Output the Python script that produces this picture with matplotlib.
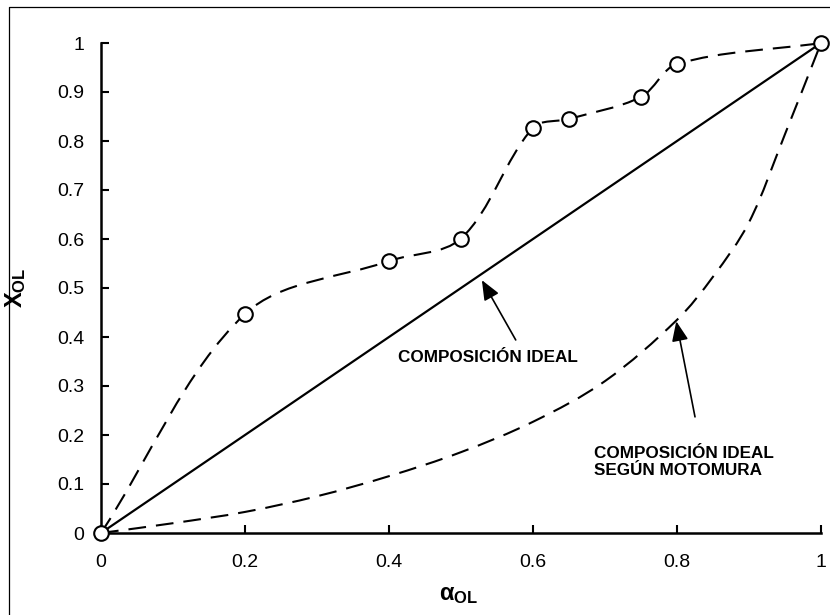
import matplotlib
matplotlib.use("Agg")
import matplotlib.pyplot as plt
from matplotlib.path import Path
from matplotlib.patches import PathPatch
from matplotlib.lines import Line2D

plt.rcParams['font.family'] = ['Liberation Sans', 'DejaVu Sans']
plt.rcParams['mathtext.fontset'] = 'custom'
plt.rcParams['mathtext.default'] = 'regular'

# ---- data ----
# measured points (dashed curve with markers)
alpha_exp = [0.0, 0.2, 0.4, 0.5, 0.6, 0.65, 0.75, 0.8, 1.0]
x_exp = [0.0, 0.447, 0.555, 0.601, 0.827, 0.845, 0.890, 0.957, 1.0]

# ideal composition (straight line)
alpha_ideal = [0.0, 1.0]
x_ideal = [0.0, 1.0]

# ideal composition after Motomura (dashed curve, no markers)
alpha_moto = [0.0, 0.1, 0.2, 0.3, 0.4, 0.5, 0.6, 0.7, 0.8, 0.85, 0.9, 0.95, 1.0]
x_moto = [0.0, 0.02, 0.043, 0.075, 0.116, 0.165, 0.227, 0.31, 0.435, 0.523,
          0.634, 0.814, 1.0]

ticks = [0, 0.2, 0.4, 0.6, 0.8, 1]
yticks = [0, 0.1, 0.2, 0.3, 0.4, 0.5, 0.6, 0.7, 0.8, 0.9, 1]


def smooth_path(xs, ys, ky=490 / 720):
    # smoothed line like a spreadsheet: Bezier segments, handles scaled by
    # segment length so close points do not overshoot
    n = len(xs)

    def dist(i, j):
        return ((xs[j] - xs[i]) ** 2 + ((ys[j] - ys[i]) * ky) ** 2) ** 0.5

    verts = [(xs[0], ys[0])]
    codes = [Path.MOVETO]
    for i in range(n - 1):
        a = i - 1 if i > 0 else i
        d = i + 2 if i + 2 < n else i + 1
        l12 = dist(i, i + 1)
        l01 = dist(a, i)
        l23 = dist(i + 1, d)
        f1 = l12 / (3 * (l01 + l12))
        f2 = l12 / (3 * (l12 + l23))
        c1 = (xs[i] + (xs[i + 1] - xs[a]) * f1, ys[i] + (ys[i + 1] - ys[a]) * f1)
        c2 = (xs[i + 1] - (xs[d] - xs[i]) * f2, ys[i + 1] - (ys[d] - ys[i]) * f2)
        verts += [c1, c2, (xs[i + 1], ys[i + 1])]
        codes += [Path.CURVE4] * 3
    return Path(verts, codes)


fig = plt.figure(figsize=(8.3, 6.15), dpi=100)
ax = fig.add_axes([101 / 830, 1 - 533 / 615, 720 / 830, 490 / 615])

dash = (0, (8.5, 4.8))

ax.plot(alpha_ideal, x_ideal, color="black", lw=1.6)

for xs, ys in [(alpha_exp, x_exp), (alpha_moto, x_moto)]:
    patch = PathPatch(smooth_path(xs, ys), facecolor="none", edgecolor="black",
                      lw=1.5, linestyle=dash, transform=ax.transData)
    ax.add_patch(patch)

ax.plot(alpha_exp, x_exp, linestyle="none", marker="o", markersize=10.5,
        markerfacecolor="white", markeredgecolor="black", markeredgewidth=1.5,
        clip_on=False, zorder=5)

# annotations
ax.annotate("", xy=(0.529, 0.516), xytext=(0.576, 0.394),
            arrowprops=dict(arrowstyle="-|>,head_length=0.6,head_width=0.25",
                            color="black", lw=1.2, mutation_scale=20,
                            shrinkA=0, shrinkB=0))
ax.annotate("", xy=(0.799, 0.432), xytext=(0.825, 0.237),
            arrowprops=dict(arrowstyle="-|>,head_length=0.6,head_width=0.25",
                            color="black", lw=1.2, mutation_scale=20,
                            shrinkA=0, shrinkB=0))
ax.text(0.4125, 0.359, "COMPOSICIÓN IDEAL", fontsize=12.3, fontweight="bold",
        ha="left", va="center")
ax.text(0.685, 0.145, "COMPOSICIÓN IDEAL\nSEGÚN MOTOMURA", fontsize=12.3,
        fontweight="bold", ha="left", va="center", linespacing=1.2)

ax.set_xlim(0, 1)
ax.set_ylim(0, 1)
ax.set_xticks(ticks)
ax.set_xticklabels(["0", "0.2", "0.4", "0.6", "0.8", "1"])
ax.set_yticks(yticks)
ax.set_yticklabels(["0", "0.1", "0.2", "0.3", "0.4", "0.5", "0.6", "0.7",
                    "0.8", "0.9", "1"])
ax.tick_params(direction="in", length=6, width=1.5, labelsize=14, pad=12)
ax.tick_params(axis="x", pad=15)

for side in ["top", "right"]:
    ax.spines[side].set_visible(False)
for side in ["left", "bottom"]:
    ax.spines[side].set_linewidth(1.8)

ax.set_ylabel(r"$X_{OL}$", fontsize=17, fontweight="bold")
ax.yaxis.set_label_coords(28 / 830, 1 - 288 / 615, transform=fig.transFigure)
ax.set_xlabel(r"$\alpha_{OL}$", fontsize=17, fontweight="bold", va="center")
ax.xaxis.set_label_coords(459 / 830, 1 - 594 / 615, transform=fig.transFigure)

# outer frame
fig.add_artist(Line2D([9 / 830, 9 / 830, 1.0], [0, 1 - 7 / 615, 1 - 7 / 615],
                      transform=fig.transFigure, color="black", lw=0.9))

fig.savefig("out.png", dpi=100)
